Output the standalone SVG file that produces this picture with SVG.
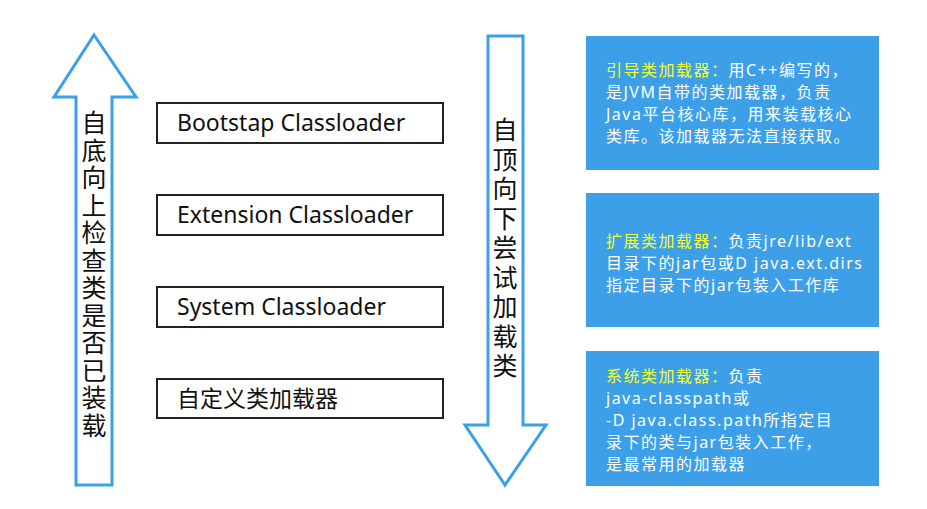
<svg xmlns="http://www.w3.org/2000/svg" width="927" height="509" viewBox="0 0 927 509">
<style>
.arrow{fill:#fff;stroke:#3d9fe8;stroke-width:3;stroke-linejoin:miter}
.box{fill:#fff;stroke:#222;stroke-width:2}
.lbl{font-family:"Noto Sans","Noto Sans CJK SC",sans-serif;font-size:23px;fill:#111}
.vt{font-family:"Noto Sans CJK SC",sans-serif;font-size:25px;fill:#111;writing-mode:vertical-rl}
.info{fill:#3d9fe8}
.it{font-family:"Noto Sans","Noto Sans CJK SC",sans-serif;font-size:16px;letter-spacing:1.5px;fill:#fff}
.hl{fill:#f4ff2a}
</style>
<g id="connectors">
<path id="up-arrow" class="arrow" d="M94,35 L136,97 L112,97 L112,485 L76,485 L76,97 L54,97 Z"/>
<path id="down-arrow" class="arrow" d="M488,36 L523,36 L523,425 L546,425 L505,485 L465,425 L488,425 Z"/>
</g>
<g id="up-label">
<text class="vt" x="94" y="110" letter-spacing="2.5">自底向上检查类是否已装载</text>
</g>
<g id="down-label">
<text class="vt" x="505" y="117" letter-spacing="4.5">自顶向下尝试加载类</text>
</g>
<g id="bootstrap">
<rect class="box" x="157" y="103" width="286" height="40"/>
<text class="lbl" x="177" y="131">Bootstap Classloader</text>
</g>
<g id="extension">
<rect class="box" x="157" y="195" width="286" height="40"/>
<text class="lbl" x="177" y="223">Extension Classloader</text>
</g>
<g id="system">
<rect class="box" x="157" y="287" width="286" height="40"/>
<text class="lbl" x="177" y="315">System Classloader</text>
</g>
<g id="custom">
<rect class="box" x="157" y="379" width="286" height="39"/>
<text class="lbl" x="177" y="407">自定义类加载器</text>
</g>
<g id="info-bootstrap">
<rect class="info" x="586" y="36" width="293" height="134"/>
<text class="it"><tspan x="606" y="76"><tspan class="hl">引导类加载器：</tspan>用C++编写的，</tspan><tspan x="606" y="98">是JVM自带的类加载器，负责</tspan><tspan x="606" y="120">Java平台核心库，用来装载核心</tspan><tspan x="606" y="142">类库。该加载器无法直接获取。</tspan></text>
</g>
<g id="info-extension">
<rect class="info" x="586" y="193" width="293" height="134"/>
<text class="it"><tspan x="606" y="247"><tspan class="hl">扩展类加载器：</tspan>负责jre/lib/ext</tspan><tspan x="606" y="269">目录下的jar包或D java.ext.dirs</tspan><tspan x="606" y="291">指定目录下的jar包装入工作库</tspan></text>
</g>
<g id="info-system">
<rect class="info" x="586" y="351" width="293" height="135"/>
<text class="it"><tspan x="606" y="382"><tspan class="hl">系统类加载器：</tspan>负责</tspan><tspan x="606" y="404">java-classpath或</tspan><tspan x="606" y="426">-D java.class.path所指定目</tspan><tspan x="606" y="448">录下的类与jar包装入工作，</tspan><tspan x="606" y="470">是最常用的加载器</tspan></text>
</g>
</svg>
